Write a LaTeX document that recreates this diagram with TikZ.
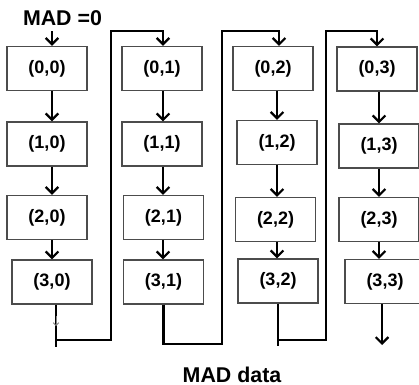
\documentclass[tikz,border=0pt]{standalone}
\usepackage{fontspec}
\setmainfont{Liberation Sans}
\usetikzlibrary{arrows.meta, positioning, calc}

\begin{document}
\begin{tikzpicture}[x=0.025cm, y=-0.025cm,
  cell/.style={rectangle, draw=black!70, line width=0.8pt, minimum width=2cm, minimum height=1.1cm, inner sep=0pt, font=\fontsize{12.8}{14}\selectfont\bfseries},
  wire/.style={line width=1.6pt},
  flow/.style={wire, -{Straight Barb[length=4.5pt, width=9pt]}},
  caption/.style={inner sep=0pt, anchor=base, font=\fontsize{15.2}{17}\selectfont\bfseries}]
\clip (0,0) rectangle (419,385);

% Titles
\node[caption] (start) at (62.5,26) {MAD =0};
\node[caption] (result) at (232,382) {MAD data};

% Column 0
\node[cell] (b00) at (47,68.5) {(0,0)};
\node[cell] (b10) at (47,144) {(1,0)};
\node[cell] (b20) at (47,217.5) {(2,0)};
\node[cell] (b30) at (52,282) {(3,0)};

% Column 1
\node[cell] (b01) at (162,68.5) {(0,1)};
\node[cell] (b11) at (162,144) {(1,1)};
\node[cell] (b21) at (163.5,217.5) {(2,1)};
\node[cell] (b31) at (163.5,282) {(3,1)};

% Column 2
\node[cell] (b02) at (273,68.5) {(0,2)};
\node[cell] (b12) at (277,142.5) {(1,2)};
\node[cell] (b22) at (275.5,219.5) {(2,2)};
\node[cell] (b32) at (278,281) {(3,2)};

% Column 3
\node[cell] (b03) at (377,69) {(0,3)};
\node[cell] (b13) at (379,146) {(1,3)};
\node[cell] (b23) at (379,219.5) {(2,3)};
\node[cell] (b33) at (385,281.5) {(3,3)};

% Arrow lines per column and loop corners
\coordinate (ax0) at (52,0);
\coordinate (ax1) at (163,0);
\coordinate (ax2) at (277,0);
\coordinate (ax3) at (379,0);
\coordinate (r0) at (111,31);
\coordinate (r1) at (222,31);
\coordinate (r2) at (326,31);
\coordinate (h0) at (56,340);
\coordinate (h2) at (278,340);
\coordinate (d0) at (56,347);
\coordinate (d1) at (163.5,344);
\coordinate (d2) at (278,346);
\coordinate (d3) at (382,345);

% Arrows down each column
\draw[flow, shorten <=1.2mm] (start.south -| ax0) -- (b00.north -| ax0);
\foreach \c in {0,1,2,3} {
  \draw[flow] (b0\c.south -| ax\c) -- (b1\c.north -| ax\c);
  \draw[flow] (b1\c.south -| ax\c) -- (b2\c.north -| ax\c);
  \draw[flow] (b2\c.south -| ax\c) -- (b3\c.north -| ax\c);
}

% Loops to the next column
\draw[wire] (b30.south -| d0) -- (d0);
\draw[black!50, line width=0.6pt, -{Straight Barb[length=2pt, width=4pt]}] ($(h0)+(0,-24)$) -- ($(h0)+(0,-14)$);
\draw[flow] (h0) -| (r0) -| (b01.north -| ax1);
\draw[flow] (b31.south -| d1) -- (d1) -| (r1) -| ($(b02.north)+(6,0)$);
\draw[wire] (b32.south -| d2) -- (d2);
\draw[flow] (h2) -| (r2) -| (b03.north);
\draw[flow] (b33.south -| d3) -- (d3);
\end{tikzpicture}
\end{document}
